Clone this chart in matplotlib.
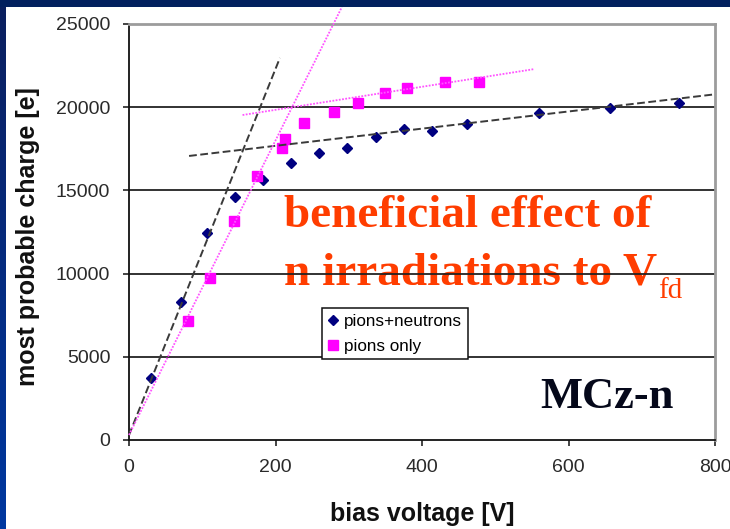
import numpy as np
import matplotlib
matplotlib.use("Agg")
import matplotlib.pyplot as plt
from matplotlib.patches import Rectangle

# measured most probable charge vs bias voltage
pn_volts = [30, 71, 107, 145, 183, 221, 259, 298, 337, 375, 413, 462, 560, 656, 751]
pn_charge = [3750, 8270, 12450, 14620, 15620, 16630, 17230, 17530, 18230, 18710,
             18590, 18990, 19670, 19970, 20270]
po_volts = [80, 111, 144, 175, 209, 213, 239, 280, 313, 350, 380, 431, 478]
po_charge = [7150, 9720, 13180, 15880, 17550, 18090, 19030, 19710, 20230, 20830,
             21130, 21530, 21530]

# linear trend lines: (slope, intercept, x start, x end)
pn_rise = (110.0, 300.0, 0, 206)
pn_plateau = (5.16, 16647.0, 82, 800)
po_rise = (88.5, 300.0, 0, 290.6)
po_plateau = (6.93, 18456.0, 155, 552)

x_ticks = [0, 200, 400, 600, 800]
y_ticks = [0, 5000, 10000, 15000, 20000, 25000]

W, H = 730, 529
fig = plt.figure(figsize=(W / 100, H / 100), dpi=100)
fig.patch.set_facecolor("white")

# slide border: blue strip on the left, navy band on top
bg = fig.add_axes([0, 0, 6 / W, 1])
grad = np.linspace(0, 1, 256).reshape(-1, 1)
from matplotlib.colors import LinearSegmentedColormap
cmap = LinearSegmentedColormap.from_list("slide", ["#0b1f5e", "#0038a0"])
bg.imshow(grad, aspect="auto", cmap=cmap, extent=[0, 1, 0, 1], origin="upper")
bg.axis("off")
fig.patches.append(Rectangle((0, 1 - 7 / H), 1, 7 / H, transform=fig.transFigure,
                             facecolor="#02205e", edgecolor="none", zorder=5))

ax = fig.add_axes([129 / W, 1 - 440 / H, 586 / W, 416 / H])


def trend(fit, **kw):
    slope, icpt, x0, x1 = fit
    xs = np.array([x0, x1], dtype=float)
    ax.plot(xs, slope * xs + icpt, **kw)


dash = dict(color="#3a3a3a", lw=1.4, linestyle=(0, (4, 1.8)), zorder=4)
dots = dict(color="#ff55ff", lw=1.3, linestyle=(0, (1, 0.8)), zorder=4)
trend(pn_rise, **dash)
trend(pn_plateau, **dash)
trend(po_rise, clip_on=False, **dots)
trend(po_plateau, **dots)

ax.plot(pn_volts, pn_charge, "D", color="#000080", markersize=5.2, ls="none",
        label="pions+neutrons", zorder=3)
ax.plot(po_volts, po_charge, "s", color="#ff00ff", markersize=7.2, ls="none",
        label="pions only", zorder=3)

ax.set_xlim(0, 800)
ax.set_ylim(0, 25000)
ax.set_xticks(x_ticks)
ax.set_yticks(y_ticks)
ax.tick_params(axis="both", direction="out", length=4.5, width=1.1, colors="#111111",
               labelsize=14, labelcolor="#2a2a2a")
ax.tick_params(axis="y", pad=9)
ax.tick_params(axis="x", pad=9.5)
for lab in ax.get_xticklabels() + ax.get_yticklabels():
    lab.set_family("Liberation Sans")

ax.yaxis.grid(True, color="#222222", lw=1.3)
ax.get_ygridlines()[-1].set_visible(False)
ax.get_ygridlines()[0].set_visible(False)

for side in ("left", "bottom"):
    ax.spines[side].set_color("#111111")
    ax.spines[side].set_linewidth(1.3)
for side in ("top", "right"):
    ax.spines[side].set_color("#9c9c9c")
    ax.spines[side].set_linewidth(2)

ax.set_xlabel("bias voltage [V]", family="Liberation Sans", fontweight="bold",
              fontsize=18, color="#111111")
ax.set_ylabel("most probable charge [e]", family="Liberation Sans", fontweight="bold",
              fontsize=18, color="#111111", va="center")
ax.xaxis.set_label_coords(0.5, -0.148)
ax.yaxis.set_label_coords(-0.172, 0.49)

leg = ax.legend(loc="upper left", bbox_to_anchor=(0.329, 0.317), borderaxespad=0,
                frameon=True, fancybox=False, edgecolor="#111111", framealpha=1,
                prop={"family": "Liberation Sans", "size": 12.3},
                handlelength=0.6, handletextpad=0.35, borderpad=0.35, labelspacing=0.55)
leg.get_frame().set_linewidth(1.1)
leg.set_zorder(6)

red = "#ff3d00"
serif = {"family": "Liberation Serif", "weight": "bold"}
ax.text(0.2645, 0.5127, "beneficial effect of", transform=ax.transAxes, color=red,
        fontsize=34, va="baseline", ha="left", zorder=1, **serif)
main = ax.text(0.2645, 0.3726, "n irradiations to V", transform=ax.transAxes, color=red,
               fontsize=34, va="baseline", ha="left", zorder=1, **serif)
ax.annotate("fd", xy=(1, 0), xycoords=main, xytext=(1, -2), textcoords="offset points",
            color=red, fontsize=21, va="baseline", ha="left", zorder=1,
            family="Liberation Serif")
ax.text(0.7026, 0.0769, "MCz-n", transform=ax.transAxes, color="#05081a",
        fontsize=32, va="baseline", ha="left", **serif)

fig.savefig("out.png", dpi=100)
